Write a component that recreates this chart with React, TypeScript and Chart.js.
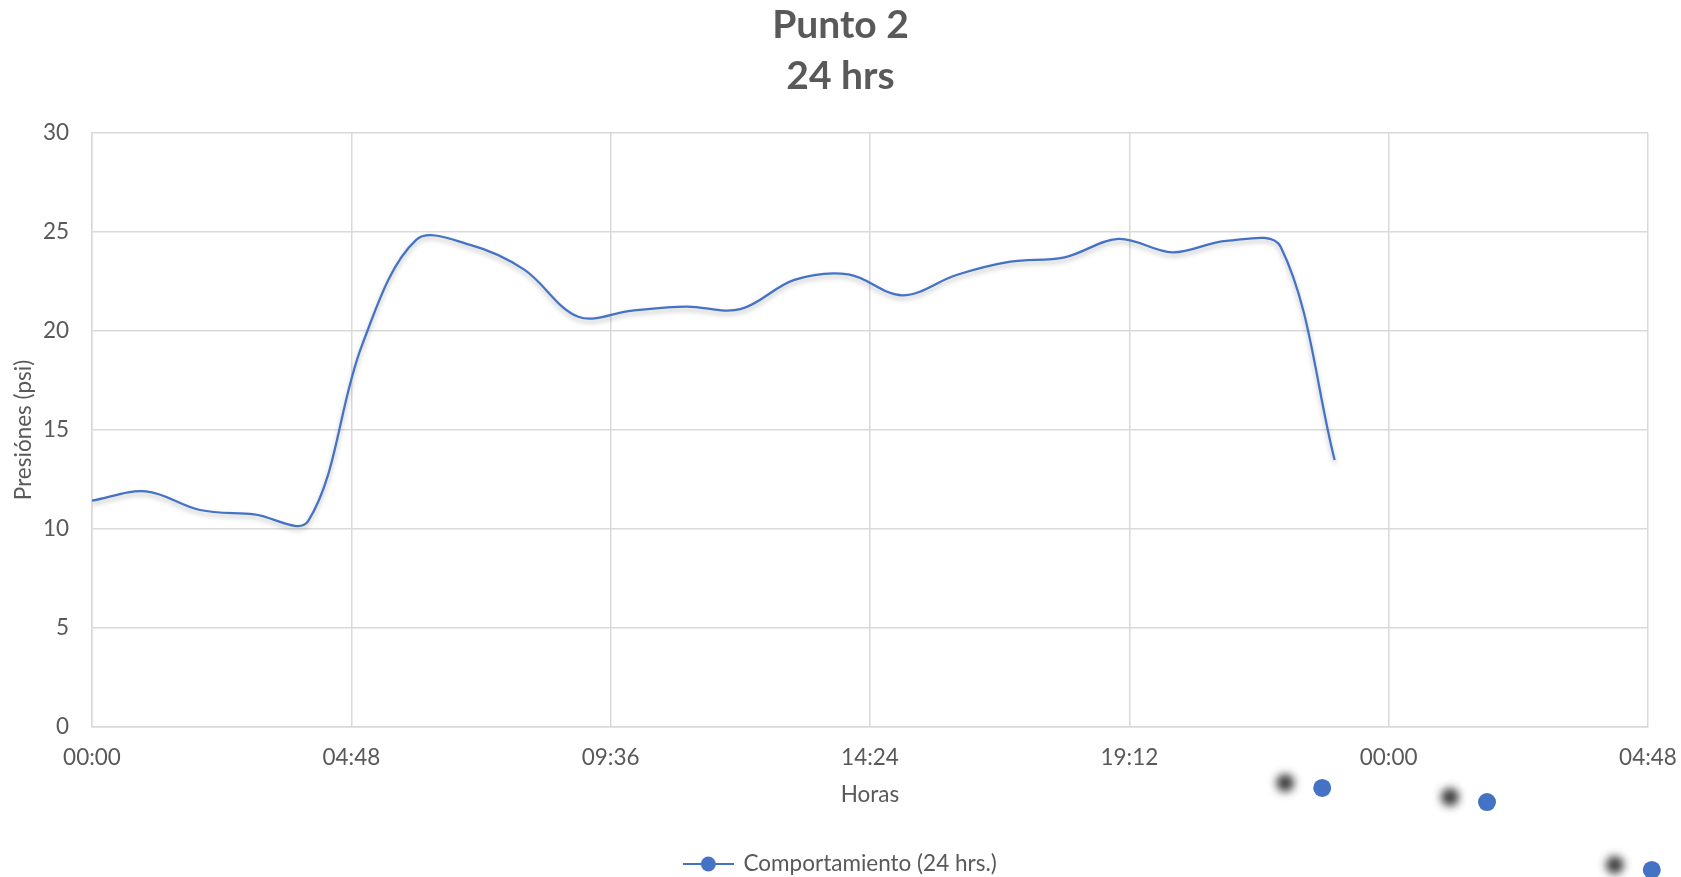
import { useEffect, useRef } from "react";
import { Chart, registerables } from "chart.js";

Chart.register(...registerables);

// Hourly readings (hours since 00:00) and pressure in psi
const hours = [0, 1, 2, 3, 4, 5, 6, 7, 8, 9, 10, 11, 12, 13, 14, 15, 16, 17, 18, 19, 20, 21, 22, 23];
const pressure = [
  11.43, 11.9, 10.96, 10.74, 10.4, 19.3, 24.6, 24.35, 23.1, 20.72, 21.03, 21.23,
  21.1, 22.58, 22.86, 21.8, 22.83, 23.5, 23.72, 24.65, 23.97, 24.55, 24.25, 13.48,
];

// Stray series markers that sit below the axis
const markerHours = [22.77, 25.82, 28.87];
const markerValues = [-3.08, -3.79, -7.22];

const xTickValues = [0, 4.8, 9.6, 14.4, 19.2, 24, 28.8];
const xTickLabels = ["00:00", "04:48", "09:36", "14:24", "19:12", "00:00", "04:48"];
const yTickValues = [0, 5, 10, 15, 20, 25, 30];

const titleLines = ["Punto 2", "24 hrs"];
const seriesLabel = "Comportamiento (24 hrs.)";
const xTitle = "Horas";
const yTitle = "Presiónes (psi)";

const FONT = "Lato, 'Open Sans', sans-serif";
const TEXT = "#595959";
const GRID = "#d9d9d9";
const BLUE = "#4472c4";
const SMALL = 22.5;

// Soft drop shadow under the line
const shadowPlugin = {
  id: "softShadow",
  beforeDatasetDraw(chart: any, args: any) {
    const ctx = chart.ctx;
    ctx.save();
    if (args.index === 0) {
      ctx.shadowColor = "rgba(0,0,0,0.28)";
      ctx.shadowBlur = 5;
      ctx.shadowOffsetX = 0;
      ctx.shadowOffsetY = 3;
    }
  },
  afterDatasetDraw(chart: any) {
    chart.ctx.restore();
  },
};

// Point elements of the marker series lie outside the chart area, so draw them here
const outsidePointsPlugin = {
  id: "outsidePoints",
  afterDatasetsDraw(chart: any) {
    const meta = chart.getDatasetMeta(1);
    const ctx = chart.ctx;
    const wide = { left: -1e5, top: -1e5, right: 1e5, bottom: 1e5 };
    ctx.save();
    ctx.shadowColor = "rgba(40,40,40,0.9)";
    ctx.shadowBlur = 8;
    ctx.shadowOffsetX = -37;
    ctx.shadowOffsetY = -5;
    meta.data.forEach((p: any) => p.draw(ctx, wide));
    ctx.restore();
  },
};

function makeLegendMarker(): HTMLCanvasElement {
  const c = document.createElement("canvas");
  c.width = 51;
  c.height = 20;
  const g = c.getContext("2d")!;
  g.strokeStyle = BLUE;
  g.lineWidth = 2;
  g.beginPath();
  g.moveTo(0, 10);
  g.lineTo(51, 10);
  g.stroke();
  g.fillStyle = BLUE;
  g.beginPath();
  g.arc(25.5, 10, 7.5, 0, Math.PI * 2);
  g.fill();
  return c;
}

export default function App() {
  const canvasRef = useRef<HTMLCanvasElement | null>(null);

  useEffect(() => {
    if (!canvasRef.current) return;
    const legendMarker = makeLegendMarker();
    const chart = new Chart(canvasRef.current, {
      type: "line",
      data: {
        datasets: [
          {
            label: seriesLabel,
            data: hours.map((h, i) => ({ x: h, y: pressure[i] })),
            borderColor: BLUE,
            backgroundColor: BLUE,
            borderWidth: 2.25,
            pointRadius: 0,
            tension: 0.35,
            fill: false,
          },
          {
            label: "markers",
            data: markerHours.map((h, i) => ({ x: h, y: markerValues[i] })),
            showLine: false,
            pointRadius: 9,
            pointBorderWidth: 0,
            pointBackgroundColor: BLUE,
            borderColor: BLUE,
            clip: false,
          },
        ],
      },
      options: {
        animation: false,
        responsive: false,
        events: [],
        layout: { padding: { top: 0, left: 0, right: 0, bottom: -8.25 } },
        scales: {
          x: {
            type: "linear",
            min: 0,
            max: 28.8,
            afterBuildTicks: (s: any) => {
              s.ticks = xTickValues.map((v) => ({ value: v }));
            },
            afterFit: (s: any) => {
              s.height = 115.75;
              s.paddingRight = 33;
            },
            ticks: {
              autoSkip: false,
              maxRotation: 0,
              padding: 17.5,
              color: TEXT,
              font: { family: FONT, size: SMALL },
              callback: (_v: any, i: number) => xTickLabels[i],
            },
            grid: { color: GRID, lineWidth: 1.5, drawTicks: false },
            border: { display: true, color: GRID, width: 1.5 },
            title: {
              display: true,
              text: xTitle,
              color: TEXT,
              font: { family: FONT, size: SMALL },
              padding: { top: 0, bottom: 34.25 },
            },
          },
          y: {
            type: "linear",
            min: 0,
            max: 30,
            afterBuildTicks: (s: any) => {
              s.ticks = yTickValues.map((v) => ({ value: v }));
            },
            afterFit: (s: any) => {
              s.width = 92;
            },
            ticks: {
              padding: 23,
              color: TEXT,
              font: { family: FONT, size: SMALL },
            },
            grid: { color: GRID, lineWidth: 1.5, drawTicks: false },
            border: { display: true, color: GRID, width: 1.5 },
            title: {
              display: true,
              text: yTitle,
              color: TEXT,
              font: { family: FONT, size: SMALL },
              padding: { top: 10, bottom: 0 },
            },
          },
        },
        plugins: {
          title: {
            display: true,
            text: titleLines,
            color: TEXT,
            font: { family: FONT, size: 39, weight: "bold", lineHeight: 1.31 },
            padding: { top: 0, bottom: 30.8 },
          },
          legend: {
            position: "bottom",
            labels: {
              usePointStyle: true,
              pointStyle: legendMarker as any,
              pointStyleWidth: 48,
              color: TEXT,
              font: { family: FONT, size: SMALL },
              padding: 10,
              filter: (item: any) => item.datasetIndex === 0,
            },
          },
          tooltip: { enabled: false },
        },
      } as any,
      plugins: [shadowPlugin, outsidePointsPlugin],
    });
    return () => chart.destroy();
  }, []);

  return (
    <div style={{ position: "absolute", left: 0, top: 0, width: 1681, height: 877, background: "#fff" }}>
      <canvas ref={canvasRef} width={1681} height={877} style={{ display: "block" }} />
    </div>
  );
}
